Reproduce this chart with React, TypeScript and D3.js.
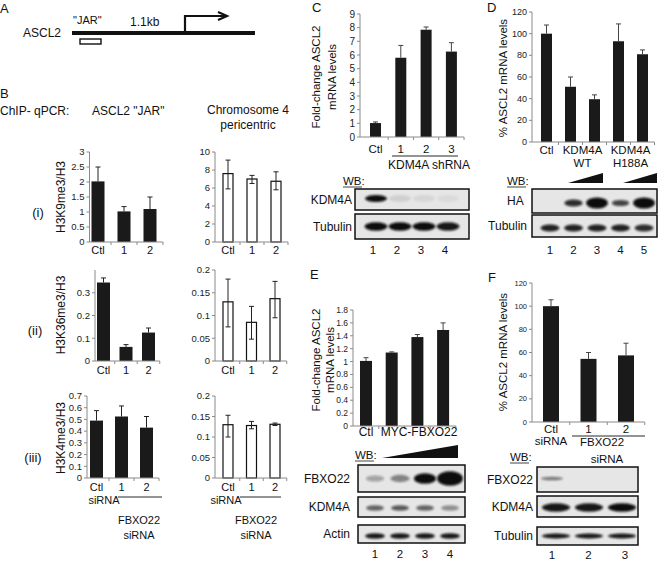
import React from 'react';
import * as d3 from 'd3';

const FONT = "'Liberation Sans', Arial, Helvetica, sans-serif";

// ---------- Panel B data ----------
const bCats = ['Ctl', '1', '2'];
const b1LeftVals = [2.02, 1.02, 1.1];
const b1LeftHi = [2.5, 1.18, 1.5];
const b1LeftTicks = [0, 0.5, 1, 1.5, 2, 2.5, 3];
const b1RightVals = [7.6, 7.0, 6.75];
const b1RightLo = [5.9, 6.5, 5.8];
const b1RightHi = [9.1, 7.4, 7.8];
const b1RightTicks = [0, 2, 4, 6, 8, 10];

const b2LeftVals = [0.345, 0.062, 0.125];
const b2LeftHi = [0.365, 0.072, 0.145];
const b2LeftTicks = [0, 0.1, 0.2, 0.3];
const b2RightVals = [0.13, 0.085, 0.137];
const b2RightLo = [0.075, 0.048, 0.095];
const b2RightHi = [0.18, 0.12, 0.175];
const bRightTicks = [0, 0.05, 0.1, 0.15, 0.2];

const b3LeftVals = [0.49, 0.525, 0.43];
const b3LeftHi = [0.575, 0.615, 0.525];
const b3LeftTicks = [0, 0.1, 0.2, 0.3, 0.4, 0.5, 0.6, 0.7];
const b3RightVals = [0.13, 0.128, 0.131];
const b3RightLo = [0.1, 0.12, 0.128];
const b3RightHi = [0.153, 0.138, 0.134];

// ---------- Panel C ----------
const cCats = ['Ctl', '1', '2', '3'];
const cVals = [1.02, 5.8, 7.85, 6.25];
const cHi = [1.1, 6.7, 8.05, 6.9];
const cTicks = [0, 1, 2, 3, 4, 5, 6, 7, 8, 9];
const cLanes = [1, 2, 3, 4];
const cKdm4a = [1, 0.1, 0.07, 0.05];
const cTubulin = [1, 1, 1, 0.95];

// ---------- Panel D ----------
const dCats = ['Ctl', 'WT-lo', 'WT-hi', 'H188A-lo', 'H188A-hi'];
const dVals = [100, 51, 39.5, 93, 81];
const dHi = [108, 60, 43.5, 109, 85];
const dTicks = [0, 20, 40, 60, 80, 100, 120];
const dLanes = [1, 2, 3, 4, 5];
const dHA = [0, 0.85, 1, 0.75, 1];
const dHASize = [0, 0.45, 1, 0.3, 1];
const dTubulin = [0.9, 0.9, 0.9, 0.9, 0.85];

// ---------- Panel E ----------
const eCats = ['Ctl', 'm1', 'm2', 'm3'];
const eVals = [1.01, 1.14, 1.38, 1.49];
const eHi = [1.06, 1.15, 1.42, 1.6];
const eTicks = [0, 0.2, 0.4, 0.6, 0.8, 1, 1.2, 1.4, 1.6, 1.8];
const eLanes = [1, 2, 3, 4];
const eFbxo = [0.3, 0.45, 1, 1];
const eFbxoSize = [0.2, 0.35, 0.75, 1.25];
const eKdm4a = [0.6, 0.65, 0.6, 0.4];
const eActin = [0.95, 0.95, 0.95, 0.95];

// ---------- Panel F ----------
const fCats = ['Ctl', '1', '2'];
const fVals = [100, 54.5, 57.5];
const fHi = [105.5, 60, 68];
const fTicks = [0, 20, 40, 60, 80, 100, 120];
const fLanes = [1, 2, 3];
const fFbxo = [0.5, 0, 0];
const fKdm4a = [0.95, 0.95, 1];
const fTubulin = [0.95, 0.95, 0.95];

const fmt = (v: number) => String(+v.toFixed(2));

type ChartProps = {
  cats: string[];
  vals: number[];
  hi: number[];
  lo?: number[];
  axisX: number;
  yTop: number;
  yBottom: number;
  max: number;
  ticks: number[];
  firstLeft: number;
  step: number;
  bw: number;
  white?: boolean;
  tickFont: number;
  labels?: string[];
  labelY?: number;
  labelFont?: number;
  capW?: number;
  errColor?: string;
};

function BarChart(p: ChartProps) {
  const n = p.cats.length;
  const pad = (p.step - p.bw) / p.step;
  const r0 = p.firstLeft - (p.step - p.bw) / 2;
  const x = d3.scaleBand().domain(p.cats).range([r0, r0 + n * p.step]).paddingInner(pad).paddingOuter(pad / 2);
  const y = d3.scaleLinear().domain([0, p.max]).range([p.yBottom, p.yTop]);
  const xEnd = r0 + n * p.step;
  const axisColor = '#8a8a8a';
  const cap = p.capW ?? 5;
  const ec = p.errColor ?? '#222';
  const bounds = d3.range(1, n + 1).map((i) => r0 + i * p.step);
  return (
    <g>
      <line x1={p.axisX} x2={p.axisX} y1={p.yBottom} y2={y(p.max)} stroke={axisColor} strokeWidth={1} />
      {p.ticks.map((t) => (
        <g key={t}>
          <line x1={p.axisX - 3} x2={p.axisX} y1={y(t)} y2={y(t)} stroke={axisColor} />
          <text x={p.axisX - 5} y={y(t)} dy="0.35em" textAnchor="end" fontSize={p.tickFont} fontFamily={FONT} fill="#222">
            {fmt(t)}
          </text>
        </g>
      ))}
      {p.cats.map((c, i) => (
        <rect
          key={c}
          x={x(c)}
          y={y(p.vals[i])}
          width={x.bandwidth()}
          height={p.yBottom - y(p.vals[i])}
          fill={p.white ? '#fff' : '#1a1a1a'}
          stroke={p.white ? '#111' : 'none'}
          strokeWidth={p.white ? 1.2 : 0}
        />
      ))}
      {p.cats.map((c, i) => {
        const cx = (x(c) as number) + x.bandwidth() / 2;
        const lo = p.lo ? p.lo[i] : p.vals[i];
        return (
          <g key={'e' + c} stroke={ec} strokeWidth={1}>
            <line x1={cx} x2={cx} y1={y(lo)} y2={y(p.hi[i])} />
            <line x1={cx - cap / 2} x2={cx + cap / 2} y1={y(p.hi[i])} y2={y(p.hi[i])} />
            {p.lo && <line x1={cx - cap / 2} x2={cx + cap / 2} y1={y(lo)} y2={y(lo)} />}
          </g>
        );
      })}
      <line x1={p.axisX} x2={xEnd} y1={p.yBottom} y2={p.yBottom} stroke={axisColor} />
      {bounds.map((b, i) => (
        <line key={i} x1={b} x2={b} y1={p.yBottom} y2={p.yBottom + 3} stroke={axisColor} />
      ))}
      {p.labels &&
        p.cats.map((c, i) => (
          <text
            key={'l' + c}
            x={(x(c) as number) + x.bandwidth() / 2}
            y={p.labelY}
            textAnchor="middle"
            fontSize={p.labelFont ?? 11}
            fontFamily={FONT}
            fill="#111"
          >
            {p.labels![i]}
          </text>
        ))}
    </g>
  );
}

function barCenter(cats: string[], firstLeft: number, step: number, bw: number, c: string) {
  const n = cats.length;
  const pad = (step - bw) / step;
  const r0 = firstLeft - (step - bw) / 2;
  const x = d3.scaleBand().domain(cats).range([r0, r0 + n * step]).paddingInner(pad).paddingOuter(pad / 2);
  return (x(c) as number) + x.bandwidth() / 2;
}

type BlotProps = {
  x0: number;
  x1: number;
  y0: number;
  y1: number;
  lanes: number[];
  laneX0: number;
  laneX1: number;
  intens: number[];
  sizes?: number[];
  bandW: number;
  bandH: number;
  label: string;
  labelX: number;
  labelAnchor?: 'end' | 'start';
  dyBand?: number;
};

function Blot(p: BlotProps) {
  const lx = d3.scalePoint<number>().domain(p.lanes).range([p.laneX0, p.laneX1]);
  const cy = (p.y0 + p.y1) / 2 + (p.dyBand ?? 0);
  return (
    <g>
      <rect x={p.x0} y={p.y0} width={p.x1 - p.x0} height={p.y1 - p.y0} fill="#e6e6e6" stroke="#111" strokeWidth={1.5} />
      {p.lanes.map((l, i) => {
        const s = p.sizes ? p.sizes[i] : 1;
        if (p.intens[i] <= 0) return null;
        return (
          <ellipse
            key={l}
            cx={lx(l)}
            cy={cy}
            rx={(p.bandW * (0.7 + 0.3 * s)) / 2}
            ry={(p.bandH * (0.5 + 0.9 * s)) / 2}
            fill="#0c0c0c"
            opacity={p.intens[i]}
            filter="url(#blur)"
          />
        );
      })}
      <text
        x={p.labelX}
        y={(p.y0 + p.y1) / 2}
        dy="0.35em"
        textAnchor={p.labelAnchor ?? 'end'}
        fontSize={12}
        fontFamily={FONT}
        fill="#111"
      >
        {p.label}
      </text>
    </g>
  );
}

function LaneNumbers({ lanes, x0, x1, y }: { lanes: number[]; x0: number; x1: number; y: number }) {
  const lx = d3.scalePoint<number>().domain(lanes).range([x0, x1]);
  return (
    <g>
      {lanes.map((l) => (
        <text key={l} x={lx(l)} y={y} textAnchor="middle" fontSize={11.5} fontFamily={FONT} fill="#111">
          {l}
        </text>
      ))}
    </g>
  );
}

function WB({ x, y }: { x: number; y: number }) {
  return (
    <g>
      <text x={x} y={y} fontSize={11.5} fontFamily={FONT} fill="#111">
        WB:
      </text>
      <line x1={x} x2={x + 19} y1={y + 2} y2={y + 2} stroke="#111" strokeWidth={0.8} />
    </g>
  );
}

function T({ x, y, children, size = 12, anchor = 'start', rotate }: any) {
  return (
    <text
      x={x}
      y={y}
      fontSize={size}
      fontFamily={FONT}
      textAnchor={anchor}
      fill="#111"
      transform={rotate ? `rotate(${rotate},${x},${y})` : undefined}
    >
      {children}
    </text>
  );
}

export default function App() {
  const dC = (i: number) => barCenter(dCats, 541, 24, 11, dCats[i]);
  const eC = (i: number) => barCenter(eCats, 360, 25.7, 12, eCats[i]);
  const fC = (i: number) => barCenter(fCats, 543, 37.5, 16, fCats[i]);
  return (
    <svg
      width={664}
      height={561}
      style={{ position: 'absolute', left: 0, top: 0, background: '#fff' }}
      xmlns="http://www.w3.org/2000/svg"
    >
      <defs>
        <filter id="blur" x="-50%" y="-100%" width="200%" height="300%">
          <feGaussianBlur stdDeviation="1.3" />
        </filter>
      </defs>
      <rect width={664} height={561} fill="#fff" />

      {/* ---------------- Panel A ---------------- */}
      <T x={0} y={13} size={13}>A</T>
      <T x={23} y={37} size={12}>ASCL2</T>
      <line x1={72} x2={255} y1={33} y2={33} stroke="#111" strokeWidth={4} />
      <path d="M185,33 V16 H226" fill="none" stroke="#111" strokeWidth={2.2} />
      <path d="M218,12 L227,16 L218,20" fill="none" stroke="#111" strokeWidth={2.2} />
      <T x={73} y={24} size={11}>"JAR"</T>
      <T x={130} y={26} size={12}>1.1kb</T>
      <rect x={80} y={39} width={21} height={5} fill="none" stroke="#111" strokeWidth={1.4} />

      {/* ---------------- Panel B ---------------- */}
      <T x={0} y={98} size={13}>B</T>
      <T x={0} y={115} size={12}>ChIP- qPCR:</T>
      <T x={92} y={115} size={12}>ASCL2 "JAR"</T>
      <T x={248} y={114} size={12} anchor="middle">Chromosome 4</T>
      <T x={248} y={129} size={12} anchor="middle">pericentric</T>

      <T x={38} y={217} size={13} anchor="middle">(i)</T>
      <T x={35} y={335} size={13} anchor="middle">(ii)</T>
      <T x={33} y={462} size={13} anchor="middle">(iii)</T>

      <T x={65} y={197} size={12} anchor="middle" rotate={-90}>H3K9me3/H3</T>
      <T x={65} y={315} size={12} anchor="middle" rotate={-90}>H3K36me3/H3</T>
      <T x={65} y={438} size={12} anchor="middle" rotate={-90}>H3K4me3/H3</T>

      <BarChart cats={bCats} vals={b1LeftVals} hi={b1LeftHi} axisX={89.5} yTop={152} yBottom={242} max={3}
        ticks={b1LeftTicks} firstLeft={91.5} step={26} bw={13} tickFont={9.5} labels={bCats} labelY={254} />
      <BarChart cats={bCats} vals={b1RightVals} hi={b1RightHi} lo={b1RightLo} white axisX={215} yTop={152} yBottom={242}
        max={10} ticks={b1RightTicks} firstLeft={223} step={24} bw={10} tickFont={9.5} labels={bCats} labelY={254} />

      <BarChart cats={bCats} vals={b2LeftVals} hi={b2LeftHi} axisX={95} yTop={270} yBottom={361} max={0.4}
        ticks={b2LeftTicks} firstLeft={97} step={22.5} bw={13} tickFont={9.5} labels={bCats} labelY={374} />
      <BarChart cats={bCats} vals={b2RightVals} hi={b2RightHi} lo={b2RightLo} white axisX={215} yTop={270} yBottom={361}
        max={0.2} ticks={bRightTicks} firstLeft={223} step={23.5} bw={10} tickFont={9.5} labels={bCats} labelY={374} />

      <BarChart cats={bCats} vals={b3LeftVals} hi={b3LeftHi} axisX={87} yTop={396} yBottom={478} max={0.7}
        ticks={b3LeftTicks} firstLeft={90} step={25} bw={13} tickFont={9.5} labels={bCats} labelY={491} />
      <BarChart cats={bCats} vals={b3RightVals} hi={b3RightHi} lo={b3RightLo} white axisX={215} yTop={396} yBottom={478}
        max={0.2} ticks={bRightTicks} firstLeft={223} step={23.5} bw={10} tickFont={9.5} labels={bCats} labelY={491} />

      <T x={104} y={504} size={11} anchor="middle">siRNA</T>
      <line x1={118} x2={162} y1={497} y2={497} stroke="#111" strokeWidth={0.9} />
      <T x={139} y={524} size={11} anchor="middle">FBXO22</T>
      <T x={139} y={539} size={11} anchor="middle">siRNA</T>
      <T x={226} y={504} size={11} anchor="middle">siRNA</T>
      <line x1={240} x2={281} y1={497} y2={497} stroke="#111" strokeWidth={0.9} />
      <T x={256} y={524} size={11} anchor="middle">FBXO22</T>
      <T x={256} y={539} size={11} anchor="middle">siRNA</T>

      {/* ---------------- Panel C ---------------- */}
      <T x={312} y={12} size={13}>C</T>
      <T x={320} y={77} size={11.5} anchor="middle" rotate={-90}>Fold-change ASCL2</T>
      <T x={336} y={77} size={11.5} anchor="middle" rotate={-90}>mRNA levels</T>
      <BarChart cats={cCats} vals={cVals} hi={cHi} axisX={360} yTop={14} yBottom={137} max={9} ticks={cTicks}
        firstLeft={370} step={25.3} bw={11} tickFont={10} labels={cCats} labelY={153} labelFont={11.5} errColor="#444" />
      <line x1={392} x2={458} y1={156} y2={156} stroke="#111" strokeWidth={0.9} />
      <T x={429} y={169} size={12} anchor="middle">KDM4A shRNA</T>
      <WB x={343} y={185} />
      <Blot x0={355} x1={469} y0={189} y1={210} lanes={cLanes} laneX0={376} laneX1={448} intens={cKdm4a} bandW={22}
        bandH={5} label="KDM4A" labelX={352} dyBand={-1} />
      <Blot x0={355} x1={469} y0={214} y1={239} lanes={cLanes} laneX0={376} laneX1={448} intens={cTubulin} bandW={23}
        bandH={6} label="Tubulin" labelX={352} />
      <LaneNumbers lanes={cLanes} x0={373} x1={445} y={254} />

      {/* ---------------- Panel D ---------------- */}
      <T x={487} y={12} size={13}>D</T>
      <T x={507} y={78} size={11.5} anchor="middle" rotate={-90}>% ASCL2 mRNA levels</T>
      <BarChart cats={dCats} vals={dVals} hi={dHi} axisX={532} yTop={12} yBottom={142} max={120} ticks={dTicks}
        firstLeft={541} step={24} bw={11} tickFont={9} errColor="#444" />
      <T x={dC(0)} y={154} size={11.5} anchor="middle">Ctl</T>
      <T x={(dC(1) + dC(2)) / 2} y={154} size={11.5} anchor="middle">KDM4A</T>
      <T x={(dC(3) + dC(4)) / 2} y={154} size={11.5} anchor="middle">KDM4A</T>
      <T x={(dC(1) + dC(2)) / 2} y={167} size={11.5} anchor="middle">WT</T>
      <T x={(dC(3) + dC(4)) / 2} y={167} size={11.5} anchor="middle">H188A</T>
      <WB x={507} y={185} />
      <polygon points="568,183 603,173 603,183" fill="#111" />
      <polygon points="623,183 657,173 657,183" fill="#111" />
      <Blot x0={532} x1={657} y0={189} y1={213} lanes={dLanes} laneX0={550} laneX1={644} intens={dHA} sizes={dHASize}
        bandW={22} bandH={8} label="HA" labelX={507} labelAnchor="start" dyBand={2} />
      <Blot x0={532} x1={657} y0={215} y1={237} lanes={dLanes} laneX0={550} laneX1={644} intens={dTubulin} bandW={19}
        bandH={5} label="Tubulin" labelX={527} dyBand={2} />
      <LaneNumbers lanes={dLanes} x0={550} x1={644} y={254} />

      {/* ---------------- Panel E ---------------- */}
      <T x={310} y={279} size={13}>E</T>
      <T x={320} y={360} size={11.5} anchor="middle" rotate={-90}>Fold-change ASCL2</T>
      <T x={334} y={360} size={11.5} anchor="middle" rotate={-90}>mRNA levels</T>
      <BarChart cats={eCats} vals={eVals} hi={eHi} axisX={353} yTop={310} yBottom={426} max={1.8} ticks={eTicks}
        firstLeft={360} step={25.7} bw={12} tickFont={8.5} errColor="#444" />
      <T x={eC(0)} y={436} size={12} anchor="middle">Ctl</T>
      <T x={419} y={436} size={12} anchor="middle">MYC-FBXO22</T>
      <WB x={355} y={459} />
      <polygon points="382,458 458,445 458,458" fill="#111" />
      <Blot x0={358} x1={465} y0={465} y1={492} lanes={eLanes} laneX0={375} laneX1={450} intens={eFbxo} sizes={eFbxoSize}
        bandW={24} bandH={9} label="FBXO22" labelX={350} />
      <Blot x0={358} x1={465} y0={497} y1={517} lanes={eLanes} laneX0={375} laneX1={450} intens={eKdm4a} bandW={18}
        bandH={4} label="KDM4A" labelX={350} dyBand={1} />
      <Blot x0={358} x1={465} y0={525} y1={543} lanes={eLanes} laneX0={375} laneX1={450} intens={eActin} bandW={20}
        bandH={4} label="Actin" labelX={350} dyBand={2} />
      <LaneNumbers lanes={eLanes} x0={375} x1={450} y={558} />

      {/* ---------------- Panel F ---------------- */}
      <T x={488} y={282} size={13}>F</T>
      <T x={507} y={352} size={11.5} anchor="middle" rotate={-90}>% ASCL2 mRNA levels</T>
      <BarChart cats={fCats} vals={fVals} hi={fHi} axisX={532} yTop={283} yBottom={422} max={120} ticks={fTicks}
        firstLeft={543} step={37.5} bw={16} tickFont={7.5} labels={fCats} labelY={433} labelFont={11.5} errColor="#444" />
      <T x={fC(0)} y={445} size={11.5} anchor="middle">siRNA</T>
      <line x1={572} x2={645} y1={436} y2={436} stroke="#111" strokeWidth={0.9} />
      <T x={602} y={446} size={11.5} anchor="middle">FBXO22</T>
      <T x={607} y={463} size={11.5} anchor="middle">siRNA</T>
      <WB x={510} y={461} />
      <Blot x0={537} x1={638} y0={467} y1={492} lanes={fLanes} laneX0={552} laneX1={625} intens={fFbxo} bandW={22}
        bandH={2.5} label="FBXO22" labelX={533} dyBand={-1} />
      <Blot x0={537} x1={638} y0={496} y1={517} lanes={fLanes} laneX0={556} laneX1={622} intens={fKdm4a} bandW={28}
        bandH={6} label="KDM4A" labelX={533} dyBand={1} />
      <Blot x0={537} x1={638} y0={527} y1={545} lanes={fLanes} laneX0={556} laneX1={622} intens={fTubulin} bandW={28}
        bandH={3.5} label="Tubulin" labelX={533} />
      <LaneNumbers lanes={fLanes} x0={552} x1={625} y={559} />
    </svg>
  );
}
